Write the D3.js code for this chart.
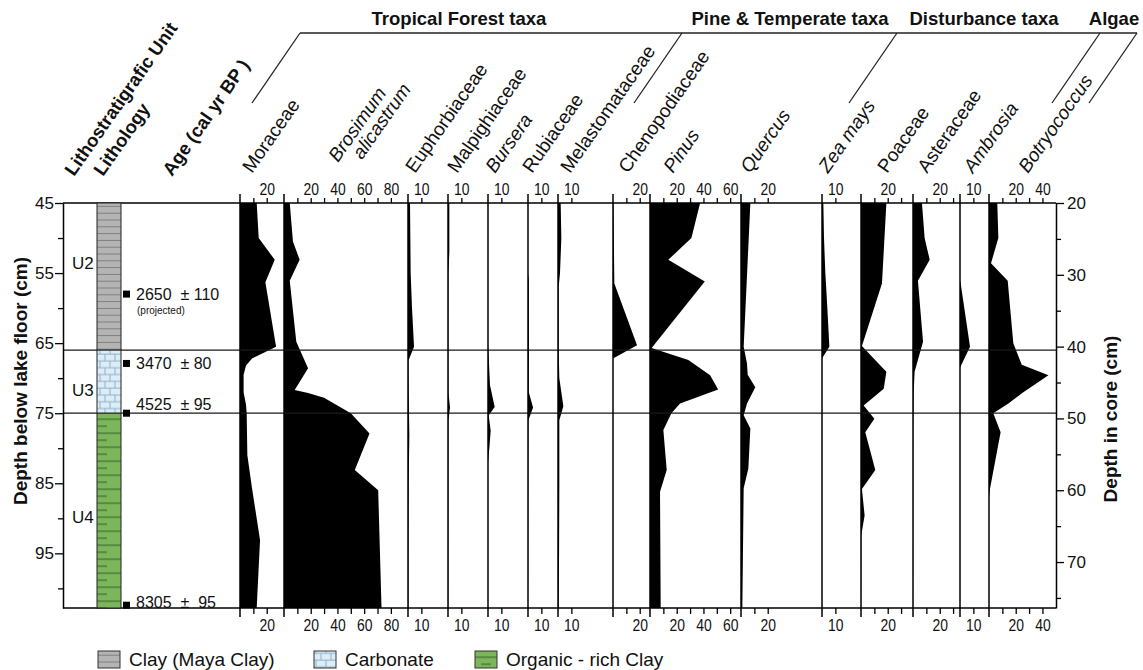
<!DOCTYPE html>
<html>
<head>
<meta charset="utf-8">
<script src="https://cdn.jsdelivr.net/npm/d3@7"></script>
<style>
  html, body { margin: 0; padding: 0; background: #fff; }
  svg { display: block; font-family: "Liberation Sans", Arial, Helvetica, sans-serif; }
</style>
</head>
<body>
<svg id="chart" width="1143" height="670"></svg>
<script>
// ---------------- DATA ----------------
const taxa = ["Moraceae", "Brosimum alicastrum", "Euphorbiaceae", "Malpighiaceae", "Bursera",
  "Rubiaceae", "Melastomataceae", "Chenopodiaceae", "Pinus", "Quercus", "Zea mays",
  "Poaceae", "Asteraceae", "Ambrosia", "Botryococcus"];
const italicTaxa = ["Brosimum alicastrum", "Bursera", "Pinus", "Quercus", "Zea mays", "Ambrosia", "Botryococcus"];

// [depth below lake floor (cm), percent]
const moraceae = [[45,12.5],[50,14],[53.1,26],[56.3,19],[65.5,27],[67.2,9],[68.2,4.5],[69.5,2.7],[72,2.7],[73.8,4.5],[75,5],[81,5.5],[85.7,9],[93.1,15],[102.8,12.5]];
const brosimum = [[45,4.3],[50.5,6.7],[53.1,11.7],[56.1,4.3],[64.8,9.2],[68.6,18],[71.7,8],[72.1,18],[72.8,30],[73.9,40],[75,50],[77.9,64],[83.1,53],[86,70.5],[102.8,73]];
const euphorbiaceae = [[45,1.5],[55,2],[60,3],[65.5,4.5],[67.5,0.3],[72,0.5],[78,1],[85,0.5],[95,0.3],[102.8,0.3]];
const malpighiaceae = [[45,1],[52,1],[55,0.3],[66,0.2],[72,0.3],[74.2,1.5],[76,0.3],[102.8,0.2]];
const bursera = [[45,0],[65,0],[67,0.5],[71,1.5],[74.1,5],[75.3,0.5],[77.5,2],[80,1],[82,0],[102.8,0]];
const rubiaceae = [[45,0],[55,0],[56,0.6],[66,0.7],[72,0.6],[74.2,3.8],[76,0.3],[102.8,0]];
const melastomataceae = [[45,2],[50,2.5],[55,1.5],[57,0.5],[66,0.5],[70,1],[74,4],[76,1],[85,1],[95,0.8],[102.8,0.5]];
const chenopodiaceae = [[45,0.3],[56.5,1],[65.3,18],[67.2,0],[102.8,0]];
const pinus = [[45,37.5],[50,31],[53.1,13.7],[56.2,41],[65.7,1.2],[67.4,28.7],[69.6,45],[71.6,51],[73.6,22.5],[75,16],[77.4,10],[83.1,12.5],[86.2,7.5],[102.8,8]];
const quercus = [[45,7],[55.3,4.5],[65.5,2],[67.9,4.5],[69.5,5],[71.3,10.7],[73.6,4.5],[75.3,2],[77.2,7],[82.9,5.5],[85.7,2],[102.8,1]];
const zeaMays = [[45,1],[50,1.5],[55,2.5],[60,4],[65.5,5.5],[67.2,0],[102.8,0]];
const poaceae = [[45,19],[56.5,15.7],[65.4,0.7],[67.7,12],[69.1,19],[71.5,17],[73.9,2],[75.8,10],[77.7,3.2],[83.1,10.7],[85.8,0.7],[89.6,2.7],[92.4,0.2],[102.8,0]];
const asteraceae = [[45,6.7],[50,8.7],[53.1,12.5],[56.1,3.7],[64.8,7.5],[69.1,1.2],[72,0.5],[76,0.2],[102.8,0]];
const ambrosia = [[45,0],[56,0],[56.5,0.5],[65.5,7.5],[68.5,0],[102.8,0]];
const botryococcus = [[45,6.2],[50,7],[53.6,1.5],[56.1,14],[65,18.2],[68.1,24.5],[69.6,44.5],[72,25.7],[73.6,14.5],[75,3.2],[77.7,8.7],[85.8,0.7],[87,0],[102.8,0]];
const series = [moraceae, brosimum, euphorbiaceae, malpighiaceae, bursera, rubiaceae, melastomataceae,
  chenopodiaceae, pinus, quercus, zeaMays, poaceae, asteraceae, ambrosia, botryococcus];

// tick values and labelled ticks (percent) per panel
const panelTicks = [[0,10,20],[0,10,20,30,40,50,60,70,80],[0,10],[0,10],[0,10],[0,10],[0,10],[0,10,20],
  [0,10,20,30,40,50,60],[0,10,20],[0,10],[0,10,20,30],[0,10,20,30],[0,10],[0,10,20,30,40]];
const panelTickLabels = [[20],[20,40,60,80],[10],[10],[10],[10],[10],[20],[20,40,60],[20],[10],[20],[20],[10],[20,40]];

const groupNames = ["Tropical Forest taxa", "Pine & Temperate taxa", "Disturbance taxa", "Algae"];

const depthDomain = [45, 102.8];          // depth below lake floor
const coreDomain = [20, 76.4];            // depth in core
const depthTicks = [45,50,55,60,65,70,75,80,85,90,95,100];
const depthTickLabels = [45,55,65,75,85,95];
const coreTicks = [20,25,30,35,40,45,50,55,60,65,70,75];
const coreTickLabels = [20,30,40,50,60,70];

const units = ["U2", "U3", "U4"];
const unitBounds = [45, 66, 75, 102.8];
const lithologyNames = ["Clay (Maya Clay)", "Carbonate", "Organic - rich Clay"];

const ageDepths = [58, 67.9, 75, 102.4];
const ageLabels = ["2650  \u00b1 110", "3470  \u00b1 80", "4525  \u00b1 95", "8305  \u00b1  95"];

// ---------------- LAYOUT ----------------
const W = 1143, H = 670;
const yTop = 203, yBot = 608;
const xAxisL = 63, xAxisR = 1056;
const pxPerPct = 1.336;
const panelLeft = [240,284,408,448,488,528,558,613,650,741,822,861,913,960,989];
const labelStartX = [252,338,415,457,495,532,570,628,673,750,828,887,927,973,1028];
const litho = {x: 97, w: 24};
const unitLabelDepth = [53.5, 71.7, 89.8];
const ageTextShift = [0, 0, -9, -3];
const groupCenters = [459, 790, 984, 1114];
const bracketDiagTops = [300, 682, 897, 1100, 1137];

const svg = d3.select("#chart");
const yL = d3.scaleLinear().domain(depthDomain).range([yTop, yBot]);
const yR = d3.scaleLinear().domain(coreDomain).range([yTop, yBot]);

// patterns
const defs = svg.append("defs");
const pClay = defs.append("pattern").attr("id","clay").attr("patternUnits","userSpaceOnUse")
  .attr("x", litho.x).attr("y", yTop).attr("width", 24).attr("height", 6.8);
pClay.append("rect").attr("width",24).attr("height",6.8).attr("fill","#b4b4b4");
pClay.append("line").attr("x1",0).attr("x2",24).attr("y1",3.4).attr("y2",3.4).attr("stroke","#7a7a7a").attr("stroke-width",0.9);

const pCarb = defs.append("pattern").attr("id","carb").attr("patternUnits","userSpaceOnUse")
  .attr("x", litho.x).attr("y", yL(66)).attr("width", 24).attr("height", 13.6);
pCarb.append("rect").attr("width",24).attr("height",13.6).attr("fill","#dcedf7");
[[0,24,4,4],[0,24,10.8,10.8],[8,8,4,10.8],[18,18,4,10.8],[13,13,10.8,13.6],[13,13,0,4],[3,3,10.8,13.6],[3,3,0,4]].forEach(l =>
  pCarb.append("line").attr("x1",l[0]).attr("x2",l[1]).attr("y1",l[2]).attr("y2",l[3]).attr("stroke","#88a9c2").attr("stroke-width",0.9));

const pOrg = defs.append("pattern").attr("id","org").attr("patternUnits","userSpaceOnUse")
  .attr("x", litho.x).attr("y", yL(75)).attr("width", 24).attr("height", 14);
pOrg.append("rect").attr("width",24).attr("height",14).attr("fill","#7bb65a");
pOrg.append("line").attr("x1",0).attr("x2",24).attr("y1",6).attr("y2",6).attr("stroke","#35602a").attr("stroke-width",1);
pOrg.append("line").attr("x1",0).attr("x2",10).attr("y1",13).attr("y2",13).attr("stroke","#35602a").attr("stroke-width",1);
const fills = ["url(#clay)", "url(#carb)", "url(#org)"];

// ---------------- PANELS ----------------
const panelScales = panelLeft.map(l => d3.scaleLinear().domain([0, 10]).range([l, l + 10 * pxPerPct]));

const gPlots = svg.append("g");
series.forEach((s, i) => {
  const xs = panelScales[i];
  const area = d3.area().curve(d3.curveLinear)
    .y(d => yL(d[0])).x0(xs(0)).x1(d => xs(d[1]));
  gPlots.append("path").datum(s).attr("d", area).attr("fill", "#000");
});

// zone boundary lines
svg.append("g").selectAll("line").data(unitBounds.slice(1, 3)).join("line")
  .attr("x1", xAxisL).attr("x2", xAxisR).attr("y1", d => yL(d)).attr("y2", d => yL(d))
  .attr("stroke", "#1a1a1a").attr("stroke-width", 1.3);

// panel baseline verticals
svg.append("g").selectAll("line").data(panelScales).join("line")
  .attr("x1", s => s(0)).attr("x2", s => s(0)).attr("y1", yTop - 9).attr("y2", yBot + 9)
  .attr("stroke", "#000").attr("stroke-width", 1.5);

// top and bottom frame lines
[yTop, yBot].forEach(y => svg.append("line").attr("x1", xAxisL).attr("x2", xAxisR)
  .attr("y1", y).attr("y2", y).attr("stroke", "#000").attr("stroke-width", 1.5));

// panel axes (top and bottom)
panelScales.forEach((xs, i) => {
  const fmt = d => panelTickLabels[i].includes(d) ? d : "";
  const top = svg.append("g").attr("transform", `translate(0,${yTop})`)
    .call(d3.axisTop(xs).tickValues(panelTicks[i].slice(1)).tickFormat(fmt).tickSize(5).tickPadding(3));
  const bot = svg.append("g").attr("transform", `translate(0,${yBot})`)
    .call(d3.axisBottom(xs).tickValues(panelTicks[i].slice(1)).tickFormat(fmt).tickSize(6).tickPadding(5));
  [top, bot].forEach(g => {
    g.select(".domain").remove();
    g.selectAll("line").attr("stroke", "#000").attr("stroke-width", 1.3);
    g.selectAll("text").attr("font-size", 17).attr("font-family", "\"Liberation Sans\", Arial, sans-serif")
      .attr("fill", "#111").attr("transform", "scale(0.82,1)");
  });
});

// left depth axis
const gl = svg.append("g").attr("transform", `translate(${xAxisL},0)`)
  .call(d3.axisLeft(yL).tickValues(depthTicks).tickFormat(d => depthTickLabels.includes(d) ? d : "")
    .tickSize(8).tickSizeOuter(0).tickPadding(1));
gl.select(".domain").attr("stroke", "#000").attr("stroke-width", 1.5);
gl.selectAll(".tick line").attr("stroke", "#000").attr("stroke-width", 1.3)
  .attr("x2", d => depthTickLabels.includes(d) ? -8 : -5);
gl.selectAll("text").attr("font-size", 17).attr("font-family", "\"Liberation Sans\", Arial, sans-serif").attr("fill", "#111");

// right core axis
const gr = svg.append("g").attr("transform", `translate(${xAxisR},0)`)
  .call(d3.axisRight(yR).tickValues(coreTicks).tickFormat(d => coreTickLabels.includes(d) ? d : "")
    .tickSize(8).tickSizeOuter(0).tickPadding(3));
gr.select(".domain").attr("stroke", "#000").attr("stroke-width", 1.5);
gr.selectAll(".tick line").attr("stroke", "#000").attr("stroke-width", 1.3)
  .attr("x2", d => coreTickLabels.includes(d) ? 8 : 5);
gr.selectAll("text").attr("font-size", 17).attr("font-family", "\"Liberation Sans\", Arial, sans-serif").attr("fill", "#111");

// lithology column
const gLith = svg.append("g");
[0, 1, 2].forEach(i => {
  gLith.append("rect").attr("x", litho.x).attr("y", yL(unitBounds[i]))
    .attr("width", litho.w).attr("height", yL(unitBounds[i + 1]) - yL(unitBounds[i]))
    .attr("fill", fills[i]).attr("stroke", "#222").attr("stroke-width", 1);
});

// unit labels
svg.append("g").selectAll("text").data(units).join("text")
  .attr("x", 72).attr("y", (d, i) => yL(unitLabelDepth[i]) + 6)
  .attr("font-size", 17).attr("fill", "#111").text(d => d);

// age markers
const gAge = svg.append("g");
ageDepths.forEach((d, i) => {
  gAge.append("rect").attr("x", 123).attr("y", yL(d) - 3.5).attr("width", 7).attr("height", 7).attr("fill", "#000");
  gAge.append("text").attr("x", 136).attr("y", yL(d) + ageTextShift[i] + 6)
    .attr("font-size", 16).attr("fill", "#111").style("white-space", "pre").text(ageLabels[i]);
});
gAge.append("text").attr("x", 137).attr("y", yL(ageDepths[0]) + 20)
  .attr("font-size", 10).attr("fill", "#111").text("(projected)");

// axis titles
svg.append("text").attr("transform", `translate(27,381) rotate(-90)`).attr("text-anchor", "middle")
  .attr("font-size", 19).attr("font-weight", "bold").attr("fill", "#111").text("Depth below lake floor (cm)");
svg.append("text").attr("transform", `translate(1117,419) rotate(-90)`).attr("text-anchor", "middle")
  .attr("font-size", 19).attr("font-weight", "bold").attr("fill", "#111").text("Depth in core (cm)");

// left headers
[["Lithostratigrafic Unit", 74], ["Lithology", 103], ["Age (cal yr BP )", 172]].forEach(h => {
  svg.append("text").attr("transform", `translate(${h[1]},177) rotate(-55)`)
    .attr("font-size", 18.5).attr("font-weight", "bold").attr("fill", "#111").text(h[0]);
});

// taxa labels
taxa.forEach((t, i) => {
  const it = italicTaxa.includes(t);
  const words = t.split(" ");
  if (t === "Brosimum alicastrum") {
    const tx = svg.append("text").attr("transform", `translate(${labelStartX[i]},163) rotate(-55)`)
      .attr("font-size", 19).attr("fill", "#111").attr("font-style", "italic");
    tx.append("tspan").attr("x", 0).attr("y", 0).text(words[0]);
    tx.append("tspan").attr("x", 16).attr("y", 18).text(words[1]);
  } else {
    svg.append("text").attr("transform", `translate(${labelStartX[i]},174) rotate(-55)`)
      .attr("font-size", 19).attr("fill", "#111").attr("font-style", it ? "italic" : "normal").text(t);
  }
});

// group headers & brackets
groupNames.forEach((g, i) => {
  svg.append("text").attr("x", groupCenters[i]).attr("y", 25).attr("text-anchor", "middle")
    .attr("font-size", 18.5).attr("font-weight", "bold").attr("fill", "#111").text(g);
});
const gBr = svg.append("g").attr("stroke", "#222").attr("stroke-width", 1.3).attr("fill", "none");
gBr.append("line").attr("x1", bracketDiagTops[0]).attr("x2", bracketDiagTops[4]).attr("y1", 33).attr("y2", 33);
bracketDiagTops.forEach(x => gBr.append("line").attr("x1", x).attr("y1", 33).attr("x2", x - 48).attr("y2", 103));

// legend
const legX = [98, 314, 475];
lithologyNames.forEach((n, i) => {
  svg.append("rect").attr("x", legX[i]).attr("y", 651).attr("width", 22).attr("height", 17)
    .attr("fill", fills[i]).attr("stroke", "#333").attr("stroke-width", 1);
  svg.append("text").attr("x", legX[i] + 31).attr("y", 666).attr("font-size", 19).attr("fill", "#111").text(n);
});
</script>
</body>
</html>
